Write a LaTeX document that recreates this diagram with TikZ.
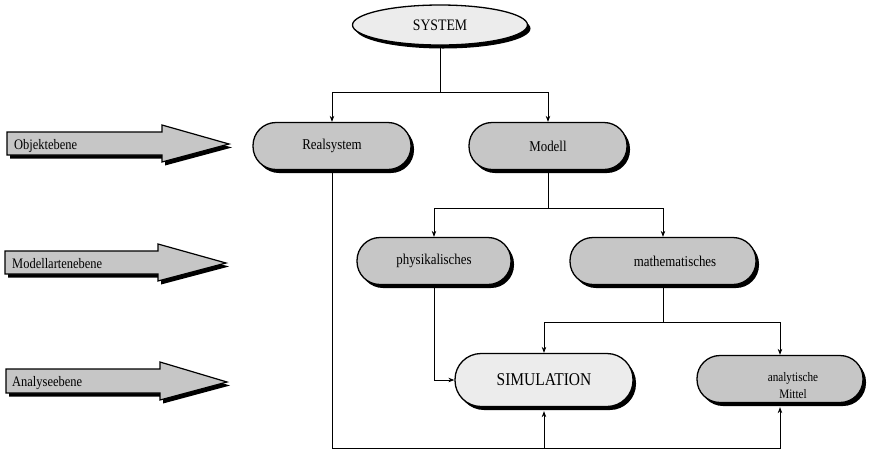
\documentclass[tikz,border=0pt]{standalone}
\usepackage{fontspec}
\setmainfont{Liberation Serif}[FakeStretch=0.86]
\usetikzlibrary{shadows,arrows.meta,shapes.geometric,calc}

\definecolor{boxgray}{RGB}{198,198,198}
\definecolor{lightgray}{RGB}{236,236,236}

\begin{document}
\begin{tikzpicture}[x=1pt,y=-1pt,
  shade3d/.style={drop shadow={shadow xshift=3pt,shadow yshift=-3.5pt,fill=black,opacity=1}},
  box/.style={rectangle,rounded corners=23pt,draw=black,line width=1.3pt,
    fill=boxgray,minimum height=47pt,inner sep=0pt,shade3d,
    font=\fontsize{15}{17}\selectfont},
  oval/.style={ellipse,draw=black,line width=1.3pt,fill=lightgray,
    minimum width=175pt,minimum height=40pt,inner sep=0pt,shade3d,
    font=\fontsize{16}{18}\selectfont},
  larrow/.style={draw=black,line width=1.2pt,fill=boxgray,shade3d,line join=miter},
  lbl/.style={anchor=base west,inner sep=0pt,font=\fontsize{14.5}{16}\selectfont},
  line/.style={draw=black,line width=0.8pt},
  arr/.style={line,-{Stealth[length=6pt,width=4.5pt]}}
]
\useasboundingbox (0,0) rectangle (872,451);

% level arrows on the left
\path[larrow] (7,132) -- (162,132) -- (162,125) -- (229,144) -- (162,162)
  -- (162,155) -- (7,155) -- cycle;
\node[lbl] (obj) at (14,149) {Objektebene};
\path[larrow] (5,251) -- (158,251) -- (158,244) -- (226,263) -- (158,281)
  -- (158,274) -- (5,274) -- cycle;
\node[lbl] (mod) at (12,268) {Modellartenebene};
\path[larrow] (6,369) -- (160,369) -- (160,362) -- (227,382) -- (160,400)
  -- (160,393) -- (6,393) -- cycle;
\node[lbl] (ana-l) at (12,386) {Analyseebene};

% boxes
\node[oval] (system) at (440,25) {SYSTEM};
\node[box,minimum width=158pt] (real) at (332,146) {Realsystem};
\node[box,minimum width=158pt] (modell) at (548,146) {Modell};
\node[box,minimum width=154pt] (phys) at (434,261) {physikalisches};
\node[box,minimum width=186pt] (math) at (663,261) {\hspace*{24pt}mathematisches};
\node[box,minimum width=178pt,minimum height=53pt,rounded corners=26pt,fill=lightgray,
  font=\fontsize{18}{20}\selectfont] (sim) at (544,380) {SIMULATION};
\node[box,minimum width=166pt] (ana) at (780,379) {};
\node[align=center,inner sep=0pt,font=\fontsize{13}{17}\selectfont] (anatext)
  at ($(ana.center)+(13,7)$) {analytische\\Mittel};

% junction points
\coordinate (j1) at (440,92);
\coordinate (j2) at (548,208);
\coordinate (j3) at (663,322);
\coordinate (j4) at (332,448);

% connectors
\draw[line] (system.south) -- (j1);
\draw[arr] (j1) -| (real.north);
\draw[arr] (j1) -| (modell.north);
\draw[line] (modell.south) -- (j2);
\draw[arr] (j2) -| (phys.north);
\draw[arr] (j2) -| (math.north);
\draw[line] (math.south) -- (j3);
\draw[arr] (j3) -| (sim.north);
\draw[arr] (j3) -| (ana.north);
\draw[arr] (phys.south) |- (sim.west);
\draw[line] (real.south) -- (j4);
\draw[arr] (j4) -| ($(sim.south)+(0,4)$);
\draw[arr] (j4) -| ($(ana.south)+(0,4)$);
\end{tikzpicture}
\end{document}
